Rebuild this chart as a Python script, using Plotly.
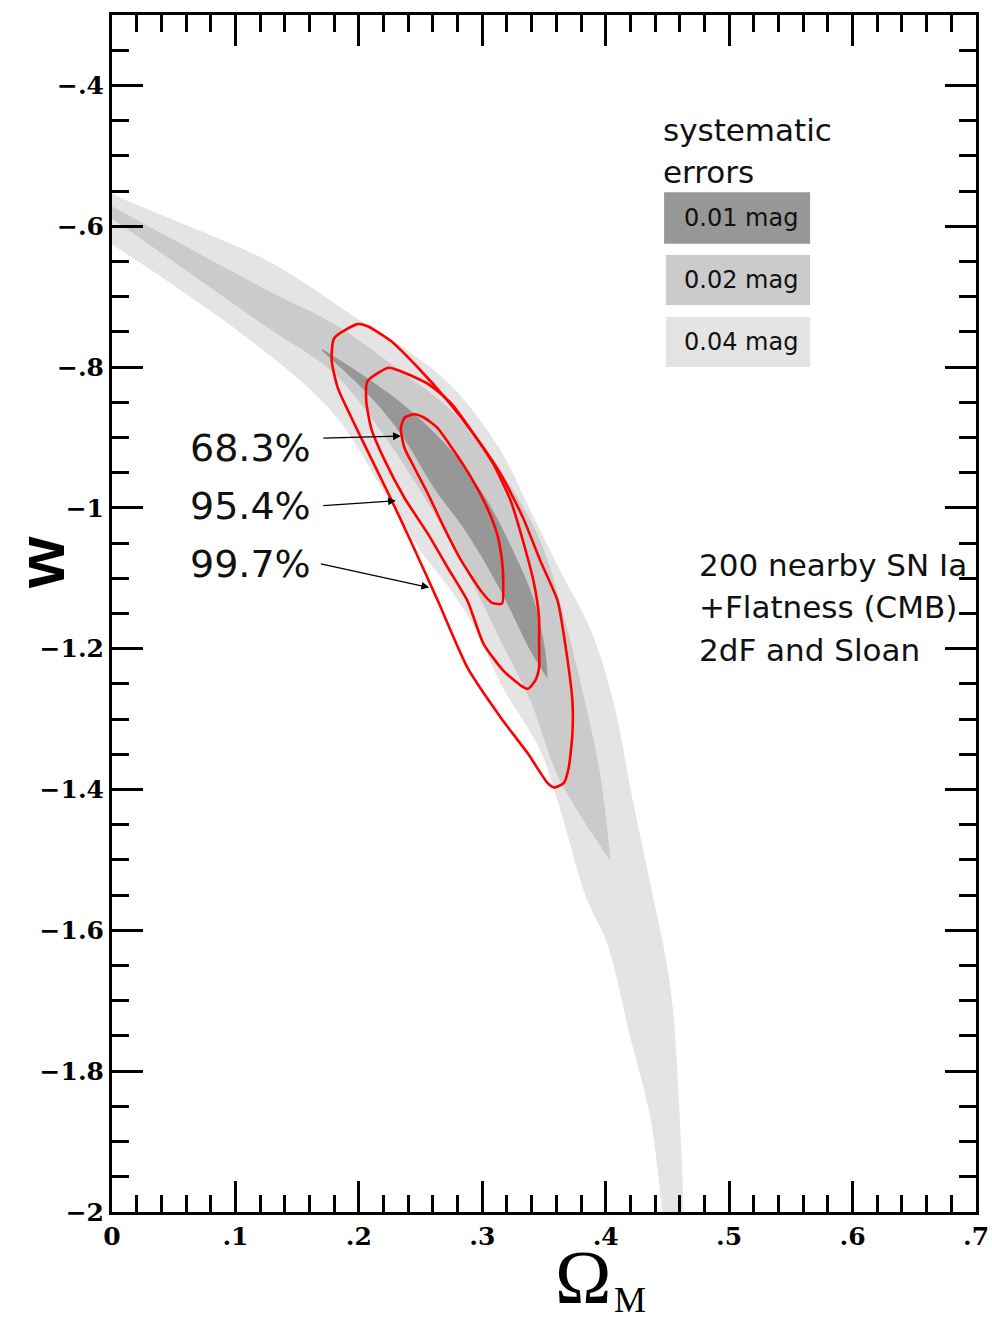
import plotly.graph_objects as go

# ---------------- data (Omega_M, w) ----------------
band04_upper_x = [-0.01, 0.0, 0.127, 0.202, 0.234, 0.275, 0.315, 0.339, 0.363, 0.388, 0.406, 0.422, 0.436, 0.452, 0.460, 0.463, 0.464]
band04_upper_y = [-0.540, -0.553, -0.650, -0.735, -0.770, -0.827, -0.919, -1.004, -1.089, -1.174, -1.274, -1.416, -1.533, -1.675, -1.865, -2.0, -2.06]
band04_lower_x = [-0.01, 0.0, 0.113, 0.180, 0.220, 0.250, 0.275, 0.295, 0.315, 0.347, 0.361, 0.385, 0.401, 0.420, 0.436, 0.446, 0.450]
band04_lower_y = [-0.616, -0.626, -0.763, -0.867, -0.976, -1.061, -1.118, -1.174, -1.250, -1.345, -1.416, -1.557, -1.618, -1.752, -1.865, -2.0, -2.06]

band02_upper_x = [-0.01, 0.0, 0.127, 0.180, 0.234, 0.275, 0.315, 0.347, 0.367, 0.383, 0.396, 0.404]
band02_upper_y = [-0.563, -0.572, -0.692, -0.739, -0.806, -0.862, -0.948, -1.047, -1.160, -1.274, -1.384, -1.501]
band02_lower_x = [-0.01, 0.0, 0.127, 0.180, 0.218, 0.250, 0.283, 0.315, 0.339, 0.363, 0.404]
band02_lower_y = [-0.577, -0.589, -0.745, -0.809, -0.891, -0.976, -1.075, -1.189, -1.274, -1.387, -1.501]

band01_upper_x = [0.170, 0.207, 0.242, 0.275, 0.304, 0.325, 0.342, 0.351, 0.353]
band01_upper_y = [-0.774, -0.816, -0.862, -0.919, -0.990, -1.061, -1.132, -1.203, -1.243]
band01_lower_x = [0.170, 0.207, 0.234, 0.261, 0.288, 0.315, 0.339, 0.353]
band01_lower_y = [-0.777, -0.838, -0.895, -0.972, -1.037, -1.118, -1.203, -1.243]

c683_x = [0.234, 0.237, 0.245, 0.253, 0.264, 0.277, 0.291, 0.304, 0.312, 0.316, 0.317, 0.316, 0.308, 0.299, 0.283, 0.269, 0.256, 0.245, 0.237, 0.234]
c683_y = [-0.887, -0.872, -0.867, -0.872, -0.887, -0.919, -0.957, -1.000, -1.037, -1.075, -1.108, -1.136, -1.135, -1.118, -1.075, -1.028, -0.980, -0.943, -0.915, -0.887]

c954_x = [0.224, 0.207, 0.206, 0.210, 0.220, 0.237, 0.256, 0.272, 0.288, 0.301, 0.317, 0.331, 0.337, 0.343, 0.346, 0.346, 0.346, 0.342, 0.333, 0.323, 0.309, 0.293, 0.275, 0.256, 0.234, 0.224]
c954_y = [-0.801, -0.820, -0.848, -0.887, -0.929, -0.986, -1.037, -1.085, -1.132, -1.193, -1.231, -1.252, -1.257, -1.245, -1.227, -1.189, -1.156, -1.108, -1.047, -0.990, -0.938, -0.895, -0.852, -0.824, -0.806, -0.801]

c997_x = [0.199, 0.180, 0.178, 0.183, 0.194, 0.207, 0.224, 0.242, 0.264, 0.288, 0.315, 0.337, 0.353, 0.358, 0.366, 0.370, 0.373, 0.373, 0.368, 0.361, 0.347, 0.333, 0.315, 0.293, 0.272, 0.248, 0.226, 0.207, 0.199]
c997_y = [-0.739, -0.759, -0.791, -0.830, -0.872, -0.919, -0.980, -1.047, -1.132, -1.227, -1.298, -1.349, -1.391, -1.397, -1.391, -1.369, -1.321, -1.274, -1.203, -1.132, -1.075, -1.014, -0.952, -0.895, -0.848, -0.801, -0.763, -0.742, -0.739]

conf_labels = ["68.3%", "95.4%", "99.7%"]
label_x = [0.163, 0.163, 0.163]
label_y = [-0.915, -0.997, -1.079]
arrow_tail_x = [0.170, 0.170, 0.168]
arrow_tail_y = [-0.901, -0.997, -1.079]
arrow_head_x = [0.234, 0.230, 0.257]
arrow_head_y = [-0.898, -0.990, -1.113]

legend_labels = ["0.01 mag", "0.02 mag", "0.04 mag"]
band_colors = ["#979797", "#cbcbcb", "#e4e4e4"]

x_tickvals = [0, 0.1, 0.2, 0.3, 0.4, 0.5, 0.6, 0.7]
x_ticktext = ["0", ".1", ".2", ".3", ".4", ".5", ".6", ".7"]
y_tickvals = [-2.0, -1.8, -1.6, -1.4, -1.2, -1.0, -0.8, -0.6, -0.4]
y_ticktext = ["\u22122", "\u22121.8", "\u22121.6", "\u22121.4", "\u22121.2", "\u22121", "\u2212.8", "\u2212.6", "\u2212.4"]

# ---------------- figure ----------------
fig = go.Figure()

def band(ux, uy, lx, ly, color):
    xs = list(ux) + list(reversed(lx))
    ys = list(uy) + list(reversed(ly))
    fig.add_trace(go.Scatter(x=xs, y=ys, mode="lines", fill="toself",
                             fillcolor=color,
                             line=dict(width=0, color=color, shape="spline", smoothing=1.0),
                             hoverinfo="skip", showlegend=False))

band(band04_upper_x, band04_upper_y, band04_lower_x, band04_lower_y, band_colors[2])
band(band02_upper_x, band02_upper_y, band02_lower_x, band02_lower_y, band_colors[1])
band(band01_upper_x, band01_upper_y, band01_lower_x, band01_lower_y, band_colors[0])

for cx, cy in [(c997_x, c997_y), (c954_x, c954_y), (c683_x, c683_y)]:
    fig.add_trace(go.Scatter(x=cx, y=cy, mode="lines",
                             line=dict(color="#ff0000", width=2.6, shape="spline", smoothing=0.6),
                             hoverinfo="skip", showlegend=False))

sans = "DejaVu Sans, Verdana, sans-serif"
label_font = dict(family=sans, size=38, color="#111111")
for i, t in enumerate(conf_labels):
    fig.add_annotation(x=label_x[i], y=label_y[i], text=t, showarrow=False,
                       xanchor="right", yanchor="middle", font=label_font)
    fig.add_annotation(x=arrow_head_x[i], y=arrow_head_y[i], ax=arrow_tail_x[i], ay=arrow_tail_y[i],
                       xref="x", yref="y", axref="x", ayref="y", text="", showarrow=True,
                       arrowhead=2, arrowsize=1.2, arrowwidth=1.3, arrowcolor="#000000", standoff=0)

# legend boxes (paper coords)
box_x0 = [0.639, 0.641, 0.641]
box_x1 = [0.808, 0.808, 0.808]
box_y0 = [0.809, 0.7577, 0.7059]
box_y1 = [0.852, 0.7995, 0.7477]
for i in range(3):
    fig.add_shape(type="rect", xref="paper", yref="paper",
                  x0=box_x0[i], x1=box_x1[i], y0=box_y0[i], y1=box_y1[i],
                  fillcolor=band_colors[i], line=dict(width=0), layer="above")
    fig.add_annotation(xref="paper", yref="paper", x=0.7285, y=(box_y0[i] + box_y1[i]) / 2,
                       text=legend_labels[i], showarrow=False, xanchor="center", yanchor="middle",
                       font=dict(family=sans, size=24, color="#111111"))

txt_font = dict(family=sans, size=31, color="#111111")
fig.add_annotation(xref="paper", yref="paper", x=0.6355, y=0.904, text="systematic",
                   showarrow=False, xanchor="left", yanchor="middle", font=txt_font)
fig.add_annotation(xref="paper", yref="paper", x=0.6355, y=0.869, text="errors",
                   showarrow=False, xanchor="left", yanchor="middle", font=txt_font)
for t, yy in [("200 nearby SN Ia", 0.5405), ("+Flatness (CMB)", 0.5054), ("2dF and Sloan", 0.4695)]:
    fig.add_annotation(xref="paper", yref="paper", x=0.677, y=yy, text=t,
                       showarrow=False, xanchor="left", yanchor="middle", font=txt_font)

# axis titles
fig.add_annotation(xref="paper", yref="paper", x=-0.0822, y=0.543, text="w", textangle=-90,
                   showarrow=False, xanchor="center", yanchor="middle",
                   font=dict(family="Liberation Sans, Arial, sans-serif", size=66, color="#000000", weight="bold"))
fig.add_annotation(xref="paper", yref="paper", x=0.545, y=-0.0545, text="\u03a9",
                   showarrow=False, xanchor="center", yanchor="middle",
                   font=dict(family="Liberation Serif, Times New Roman, serif", size=76, color="#000000"))
fig.add_annotation(xref="paper", yref="paper", x=0.5995, y=-0.0915, text="M",
                   showarrow=False, xanchor="center", yanchor="bottom",
                   font=dict(family="Liberation Serif, Times New Roman, serif", size=36, color="#000000"))

tick_font = dict(family="DejaVu Serif, serif", size=25, color="#000000", weight="bold")
fig.update_xaxes(range=[0, 0.7], tickmode="array", tickvals=x_tickvals, ticktext=x_ticktext,
                 ticks="inside", ticklen=31, tickwidth=2.5, tickcolor="#000000",
                 minor=dict(tickmode="linear", tick0=0, dtick=0.02, ticks="inside", ticklen=17,
                            tickwidth=2.5, tickcolor="#000000"),
                 showline=True, linewidth=3, linecolor="#000000", mirror="allticks",
                 showgrid=False, zeroline=False, tickfont=tick_font, automargin=False)
fig.update_yaxes(range=[-2, -0.3], tickmode="array", tickvals=y_tickvals, ticktext=y_ticktext,
                 ticks="inside", ticklen=31, tickwidth=2.5, tickcolor="#000000",
                 minor=dict(tickmode="linear", tick0=-2, dtick=0.05, ticks="inside", ticklen=17,
                            tickwidth=2.5, tickcolor="#000000"),
                 showline=True, linewidth=3, linecolor="#000000", mirror="allticks",
                 showgrid=False, zeroline=False, tickfont=tick_font, automargin=False)

fig.update_layout(width=992, height=1325, margin=dict(l=112, r=16, t=15, b=113, autoexpand=False),
                  plot_bgcolor="#ffffff", paper_bgcolor="#ffffff", showlegend=False)

fig.write_html("out.html")
